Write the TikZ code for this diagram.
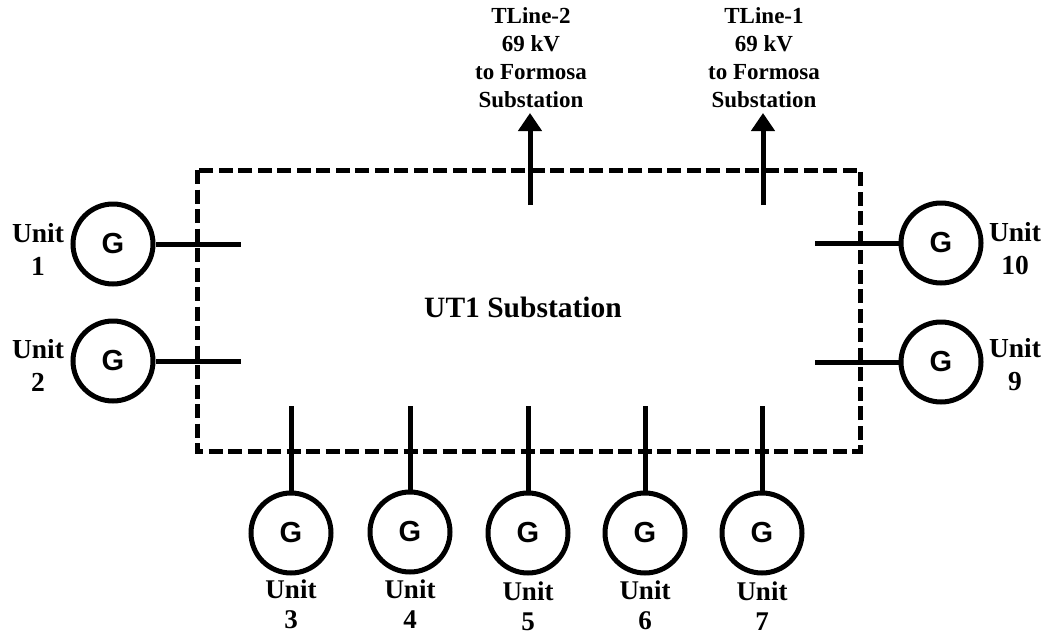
\documentclass[tikz,border=0pt]{standalone}
\usepackage{fontspec}
\setmainfont{Liberation Serif}
\setsansfont{Liberation Sans}
\usepackage{tikz}
\usetikzlibrary{arrows.meta,positioning}
\tikzset{
  gen/.style={circle,draw,line width=5pt,minimum size=80pt,inner sep=0pt,font=\sffamily\bfseries\fontsize{29}{29}\selectfont},
  lbl/.style={align=center,font=\bfseries\fontsize{27.5}{33}\selectfont,inner sep=0pt},
  botlbl/.style={align=center,font=\bfseries\fontsize{27}{30}\selectfont,inner sep=0pt},
  toplbl/.style={align=center,font=\bfseries\fontsize{23}{28}\selectfont,inner sep=0pt},
  bus/.style={line width=5pt},
}
\begin{document}
\begin{tikzpicture}[x=1pt,y=-1pt,>={Triangle[length=18pt,width=23pt]}]
  \useasboundingbox (0,0) rectangle (1047,635);
  \draw[line width=5pt,dash pattern=on 14pt off 5.5pt] (197,170) rectangle (860,451);
  \node[lbl,font=\bfseries\fontsize{29.5}{33}\selectfont] (sub) at (523,307) {UT1 Substation};
  % left
  \node[gen] (g1) at (113,244) {G};
  \node[gen] (g2) at (113,361) {G};
  \node[lbl] (u1) at (38,249) {Unit\\1};
  \node[lbl] (u2) at (38,365) {Unit\\2};
  \coordinate (b1) at (241,244);
  \coordinate (b2) at (241,361);
  \draw[bus] (g1) -- (b1);
  \draw[bus] (g2) -- (b2);
  % right
  \node[gen] (g10) at (941,243) {G};
  \node[gen] (g9) at (941,362) {G};
  \node[lbl] (u10) at (1015,249) {Unit\\10};
  \node[lbl] (u9) at (1015,365) {Unit\\9};
  \coordinate (b10) at (815,243);
  \coordinate (b9) at (815,362);
  \draw[bus] (g10) -- (b10);
  \draw[bus] (g9) -- (b9);
  % bottom
  \foreach \name/\x/\y/\ly in {3/291/533/604,4/410/532/604,5/528/533/606,6/645/533/605,7/762/533/606} {
    \node[gen] (g\name) at (\x,\y) {G};
    \node[botlbl] (u\name) at (\x,\ly) {Unit\\\name};
    \coordinate (b\name) at (\x,406);
    \draw[bus] (g\name) -- (b\name);
  }
  % lines out
  \coordinate (t2) at (530,205);
  \coordinate (a2) at (530,113);
  \coordinate (t1) at (763,205);
  \coordinate (a1) at (763,113);
  \draw[bus,->] (t2) -- (a2);
  \draw[bus,->] (t1) -- (a1);
  \node[toplbl] (l2) at (531,58) {TLine-2\\69 kV\\to Formosa\\Substation};
  \node[toplbl] (l1) at (764,58) {TLine-1\\69 kV\\to Formosa\\Substation};
\end{tikzpicture}
\end{document}
